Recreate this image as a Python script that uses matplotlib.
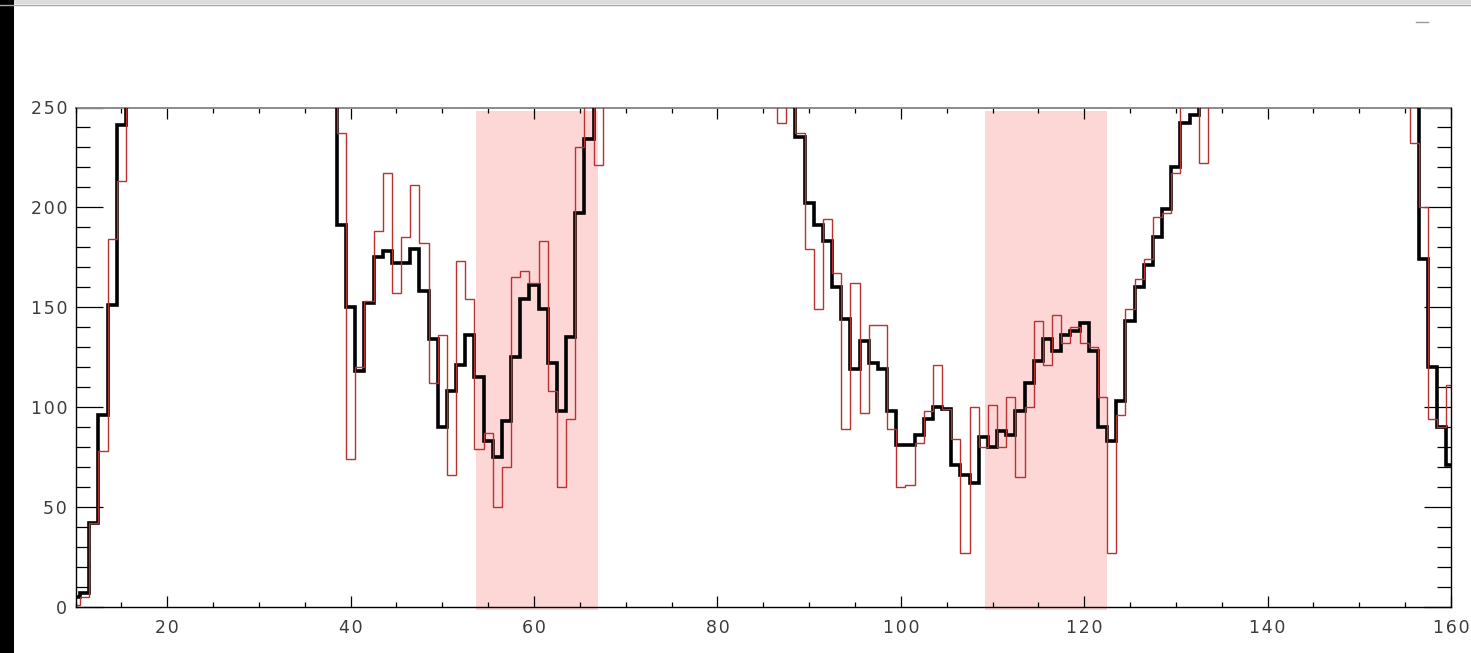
import numpy as np
import matplotlib
matplotlib.use("Agg")
import matplotlib.pyplot as plt
from matplotlib.patches import Rectangle
from matplotlib.lines import Line2D
from matplotlib.ticker import MultipleLocator, FuncFormatter

# each run of unit-wide bins starts at this bin centre;
# bins marked 300 run off the top of the plot
first_bin = [10, 38, 86, 155]

smooth_a = [5, 7, 42, 96, 151, 241, 300]
smooth_b = [300, 191, 150, 118, 152, 175, 178, 172, 172, 179, 158, 134, 90, 108,
            121, 136, 115, 83, 75, 93, 125, 154, 161, 149, 122, 98, 135, 197, 234,
            300, 300]
smooth_c = [300, 300, 300, 235, 202, 191, 183, 160, 144, 119, 133, 122, 119, 98,
            81, 81, 86, 94, 100, 99, 71, 66, 62, 85, 80, 88, 86, 98, 112, 123,
            134, 128, 136, 138, 142, 128, 90, 83, 103, 143, 160, 171, 185, 199,
            220, 242, 246, 300, 300]
smooth_d = [300, 300, 174, 120, 90, 71]

raw_a = [1, 5, 42, 78, 184, 213, 300]
raw_b = [300, 237, 74, 120, 153, 188, 217, 157, 185, 211, 182, 112, 136, 66,
         173, 154, 79, 87, 50, 70, 165, 168, 162, 183, 108, 60, 94, 230, 300,
         221, 300]
raw_c = [300, 242, 300, 237, 179, 149, 194, 167, 89, 162, 97, 141, 141, 89,
         60, 61, 82, 98, 121, 99, 84, 27, 100, 80, 101, 80, 105, 65, 100, 143,
         121, 146, 132, 140, 132, 130, 105, 27, 96, 149, 164, 174, 195, 197,
         217, 256, 251, 222, 300]
raw_d = [300, 232, 200, 94, 90, 111]

smooth_runs = [smooth_a, smooth_b, smooth_c, smooth_d]
raw_runs = [raw_a, raw_b, raw_c, raw_d]

# shaded windows (x range)
bands = [(53.7, 66.95), (109.2, 122.45)]


def spaced(v, pos):
    # wide, slightly letter-spaced digits
    return "\u200a".join(str(int(round(v))))


W, H = 1471, 653
fig = plt.figure(figsize=(W / 100, H / 100), dpi=100)
fig.patch.set_facecolor("white")
ax = fig.add_axes([75.5 / W, 46.3 / H, (1451 - 75.5) / W, (606.7 - 107.5) / H])

for x0, x1 in bands:
    ax.add_patch(Rectangle((x0, -1.7), x1 - x0, 250.0, facecolor="#fdd6d6",
                           edgecolor="none", zorder=0.5, clip_on=False))

for start, smooth, raw in zip(first_bin, smooth_runs, raw_runs):
    edges = np.arange(len(smooth) + 1) + start - 0.5
    ax.stairs(smooth, edges, baseline=None, color="black", lw=2.6,
              joinstyle="miter", zorder=3)
    ax.stairs(raw, edges, baseline=None, color="#bb3030", lw=1.0,
              joinstyle="miter", zorder=4)

ax.set_xlim(10, 160)
ax.set_ylim(0, 250)

ax.xaxis.set_major_locator(MultipleLocator(20))
ax.xaxis.set_minor_locator(MultipleLocator(5))
ax.yaxis.set_major_locator(MultipleLocator(50))
ax.yaxis.set_minor_locator(MultipleLocator(10))
ax.xaxis.set_major_formatter(FuncFormatter(spaced))
ax.yaxis.set_major_formatter(FuncFormatter(spaced))

lab = dict(labelsize=12.5, labelcolor="#3c3c3c", colors="black", width=0.9)
ax.tick_params(axis="x", which="major", direction="in", length=8, top=True,
               bottom=True, pad=9, **lab)
ax.tick_params(axis="x", which="minor", direction="in", length=3.8, top=True,
               bottom=True, width=0.9)
ax.tick_params(axis="y", which="major", direction="in", length=19.5, left=True,
               right=True, pad=6, **lab)
ax.tick_params(axis="y", which="minor", direction="in", length=10, left=True,
               right=True, width=0.9)

for side in ["left", "right", "bottom"]:
    ax.spines[side].set_linewidth(1.0)
    ax.spines[side].set_zorder(5)
ax.spines["top"].set_color("#8a8a8a")
ax.spines["top"].set_linewidth(1.4)

# window frame bits around the plot
fig.patches.append(Rectangle((0, 1 - 4 / H), 1, 4 / H, transform=fig.transFigure,
                             facecolor="#dcdcdc", edgecolor="none"))
fig.lines.append(Line2D([0, 1], [1 - 4.5 / H] * 2, transform=fig.transFigure,
                        color="#a8a8a8", lw=1.0))
fig.lines.append(Line2D([1416 / W, 1428 / W], [1 - 22 / H] * 2,
                        transform=fig.transFigure, color="#9a9a9a", lw=1.0))
fig.patches.append(Rectangle((0, 0), 14 / W, 1, transform=fig.transFigure,
                             facecolor="black", edgecolor="none"))

fig.savefig("out.png", dpi=100)
